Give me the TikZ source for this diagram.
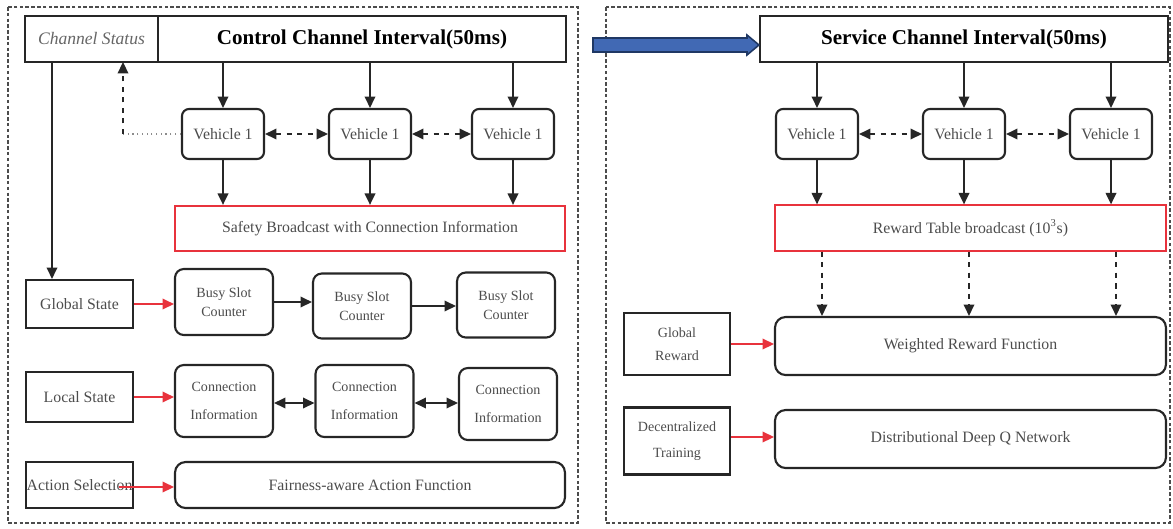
\documentclass[tikz,border=0pt]{standalone}
\usepackage{fontspec}
\setmainfont{Liberation Serif}
\usetikzlibrary{arrows.meta}
\usetikzlibrary{calc}
\definecolor{arrowblue}{HTML}{4169B4}
\definecolor{arrowedge}{HTML}{1F3864}
\definecolor{boxred}{HTML}{E8323C}
\tikzset{
framebox/.style = {draw=black!70, line width=1.1pt,
        dash pattern=on 2pt off 1.3pt},
chbox/.style = {draw=black!85, line width=1.2pt, inner sep=0pt,
        minimum height=0.92cm,
        font=\fontsize{12}{14}\selectfont\bfseries},
vehbox/.style = {draw=black!85, line width=1.2pt, rounded corners=4pt,
        minimum width=1.64cm, minimum height=1cm, inner sep=0pt,
        text=black!70, font=\fontsize{9}{10}\selectfont},
redbox/.style = {draw=boxred, line width=1pt, minimum height=0.91cm,
        text=black!70, font=\fontsize{9}{10}\selectfont},
statebox/.style = {draw=black!85, line width=1.2pt, inner xsep=0pt,
        minimum width=2.14cm, text=black!70,
        font=\fontsize{9}{10}\selectfont},
smallbox/.style = {draw=black!85, line width=1.2pt, rounded corners=5pt,
        minimum width=1.96cm, inner sep=0pt, align=center,
        text=black!70, font=\fontsize{8}{11}\selectfont},
funcbox/.style = {draw=black!85, line width=1.2pt, rounded corners=6pt,
        minimum width=7.8cm, text=black!70,
        font=\fontsize{9}{10}\selectfont},
% arrow styles
arr/.style = {line width=1pt, black!85, -{Triangle[length=6.5pt,width=6pt]}},
redarr/.style = {line width=1pt, boxred, -{Triangle[length=6.5pt,width=6pt]}},
dasharr/.style = {line width=1pt, black!85, dashed,
        {Triangle[length=6.5pt,width=6pt]}-{Triangle[length=6.5pt,width=6pt]}},
biarr/.style = {line width=1pt, black!85,
        {Triangle[length=6.5pt,width=6pt]}-{Triangle[length=6.5pt,width=6pt]}}
        }

\begin{document}
\begin{tikzpicture}[x=0.02cm, y=-0.02cm]

\useasboundingbox (0,0) rectangle (1173,528);

%%% Frames:

\draw[framebox] (8,7) rectangle (578,523);
\draw[framebox] (606,7) rectangle (1170,523);

%%% Control channel (left):

\node[chbox, minimum width=2.66cm, text=black!60,
      font=\fontsize{10}{12}\selectfont\itshape] (chs) at (91.5,39) {Channel Status};
\node[chbox, minimum width=8.16cm] (cci) at (362,39) {Control Channel Interval(50ms)};

\node[vehbox] (v1) at (223,134) {Vehicle 1};
\node[vehbox] (v2) at (370,134) {Vehicle 1};
\node[vehbox] (v3) at (513,134) {Vehicle 1};

\node[redbox, minimum width=7.8cm] (sb) at (370,228.5) {Safety Broadcast with Connection Information};

\node[statebox, minimum height=0.96cm] (gs) at (79.5,304) {Global State};
\node[smallbox, minimum height=1.32cm] (bs1) at (224,302) {Busy Slot\\Counter};
\node[smallbox, minimum height=1.3cm] (bs2) at (362,306) {Busy Slot\\Counter};
\node[smallbox, minimum height=1.3cm] (bs3) at (506,305) {Busy Slot\\Counter};

\node[statebox, minimum height=1cm] (ls) at (79.5,397) {Local State};
\node[smallbox, minimum height=1.44cm, font=\fontsize{8}{16}\selectfont] (ci1) at (224,401) {Connection\\Information};
\node[smallbox, minimum height=1.44cm, font=\fontsize{8}{16}\selectfont] (ci2) at (364.5,401) {Connection\\Information};
\node[smallbox, minimum height=1.44cm, font=\fontsize{8}{16}\selectfont] (ci3) at (508,404) {Connection\\Information};

\node[statebox, minimum height=0.92cm] (as) at (79.5,485) {Action Selection};
\node[funcbox, minimum height=0.92cm] (faf) at (370,485) {Fairness-aware Action Function};

\coordinate (fb) at (123,62);
\coordinate (cl) at (52,62);

\foreach \v in {v1,v2,v3}
{
\draw[arr] (\v |- cci.south) -- (\v.north);
\draw[arr] (\v.south) -- (\v |- sb.north);
}

\draw[dasharr] (v1.east) -- (v2.west);
\draw[dasharr] (v2.east) -- (v3.west);

\draw[black!45, line width=0.7pt, dotted] (v1.west) -- (v1.west -| fb);
\draw[arr, dashed] (v1.west -| fb) -- (fb);
\draw[arr] (cl) -- (cl |- gs.north);

\draw[redarr] (gs.east) -- (gs.east -| bs1.west);
\draw[arr] (bs1.east) -- (bs1.east -| bs2.west);
\draw[arr] (bs2.east) -- (bs2.east -| bs3.west);

\draw[redarr] (ls.east) -- (ls.east -| ci1.west);
\draw[biarr] ($(ci1.east)+(0,2)$) -- ($(ci1.east -| ci2.west)+(0,2)$);
\draw[biarr] ($(ci2.east)+(0,2)$) -- ($(ci2.east -| ci3.west)+(0,2)$);

\draw[redarr] ($(as.east)+(-15,2)$) -- ($(as.east -| faf.west)+(0,2)$);

%%% Service channel (right):

\node[chbox, minimum width=8.16cm] (sci) at (964,39) {Service Channel Interval(50ms)};

\node[vehbox] (rv1) at (817,134) {Vehicle 1};
\node[vehbox] (rv2) at (964,134) {Vehicle 1};
\node[vehbox] (rv3) at (1111,134) {Vehicle 1};

\node[redbox, minimum width=7.82cm] (rt) at (970.5,228) {Reward Table broadcast (10\textsuperscript{3}s)};

\node[statebox, minimum width=2.12cm, minimum height=1.24cm, align=center,
      font=\fontsize{8}{13}\selectfont] (gr) at (677,344) {Global\\Reward};
\node[funcbox, minimum width=7.82cm, minimum height=1.16cm] (wrf) at (970.5,346) {Weighted Reward Function};

\node[statebox, minimum width=2.12cm, minimum height=1.34cm, align=center,
      font=\fontsize{8}{15}\selectfont] (dt) at (677,441) {Decentralized\\Training};
\node[funcbox, minimum width=7.82cm, minimum height=1.16cm] (dqn) at (970.5,439) {Distributional Deep Q Network};

\foreach \v in {rv1,rv2,rv3}
{
\draw[arr] (\v |- sci.south) -- (\v.north);
\draw[arr] (\v.south) -- (\v |- rt.north);
\draw[arr, dashed] ($(\v |- rt.south)+(5,0)$) -- ($(\v |- wrf.north)+(5,0)$);
}

\draw[dasharr] (rv1.east) -- (rv2.west);
\draw[dasharr] (rv2.east) -- (rv3.west);

\draw[redarr] (gr.east) -- (gr.east -| wrf.west);
\draw[redarr] ($(dt.east)+(0,-4)$) -- ($(dt.east -| dqn.west)+(0,-4)$);

%%% Block arrow between the intervals:

\coordinate (ba) at (593,45);
\filldraw[fill=arrowblue, draw=arrowedge, line width=0.9pt]
     ($(ba)+(0,-7)$) --
     ($(sci.west)+(-12,-1)$) --
     ($(sci.west)+(-12,-4)$) --
     ($(sci.west)+(0,6)$) --
     ($(sci.west)+(-12,16)$) --
     ($(sci.west)+(-12,13)$) --
     ($(ba)+(0,7)$) --
     cycle;

\end{tikzpicture}
\end{document}
